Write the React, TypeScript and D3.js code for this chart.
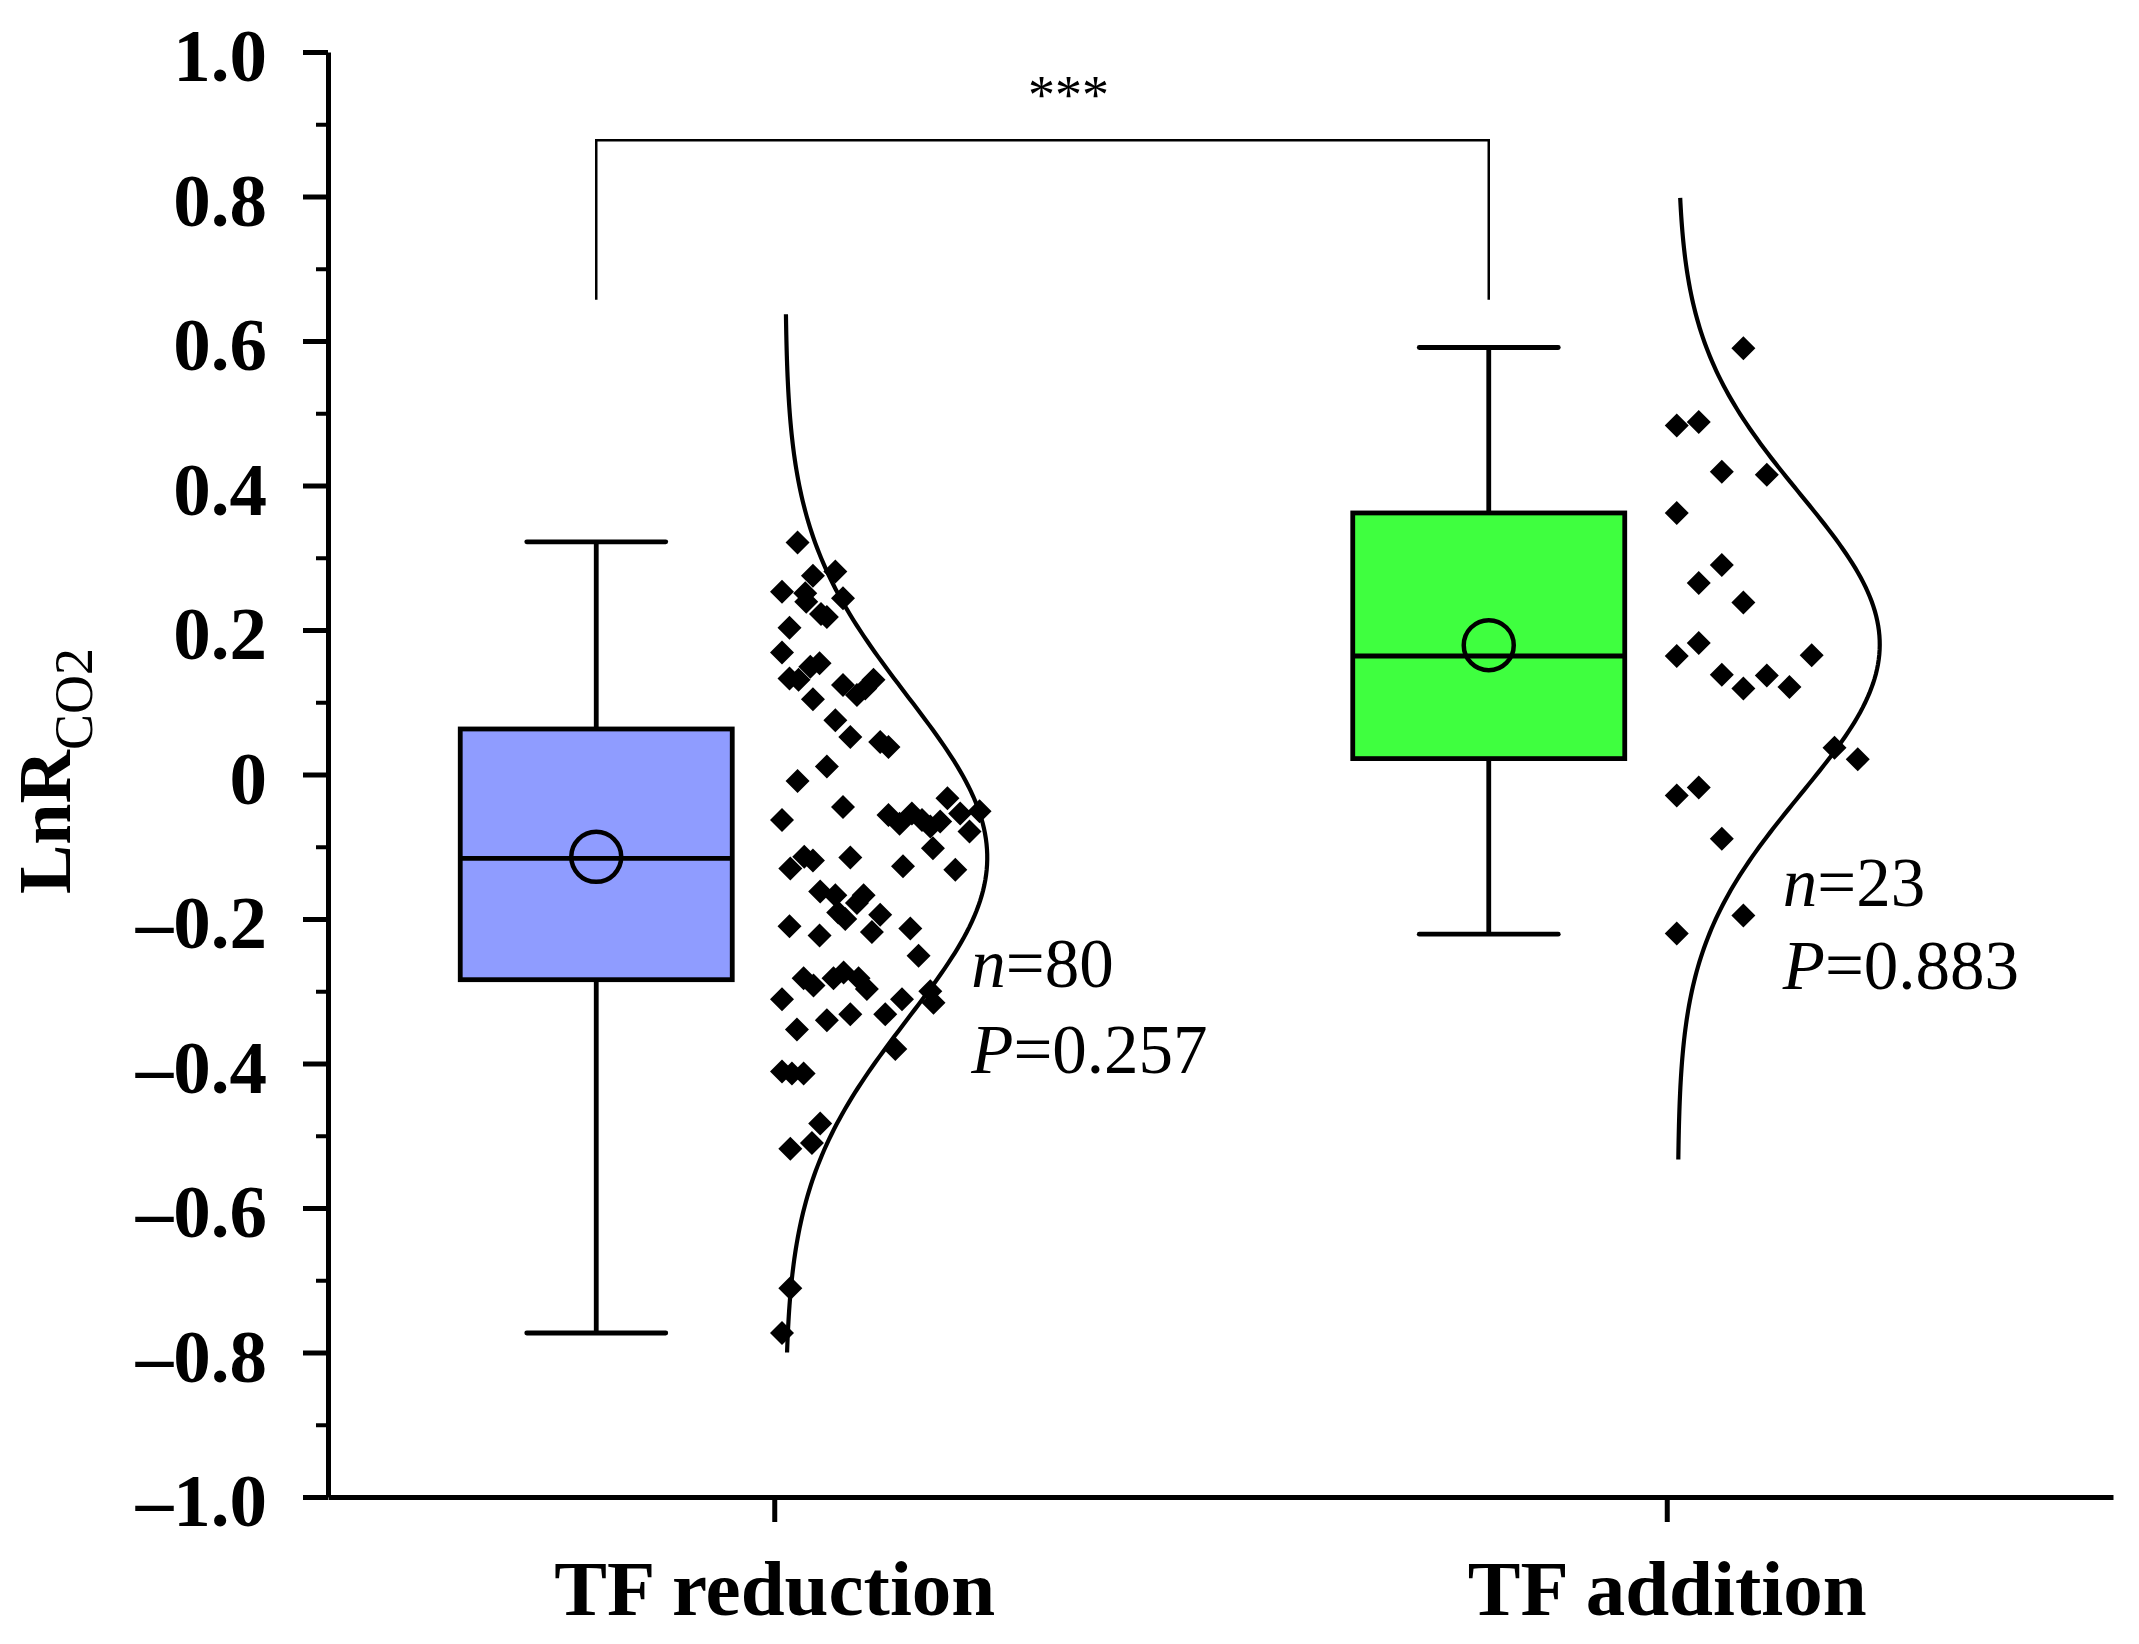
import * as d3 from "d3";
import { useEffect, useRef } from "react";

const categories = ["TF reduction", "TF addition"];
const boxColors = ["#8f9cff", "#3fff3f"];

// box stats: [whisker low, q1, median, q3, whisker high]
const reductionBox = [-0.773, -0.284, -0.116, 0.063, 0.322];
const additionBox = [-0.221, 0.022, 0.164, 0.362, 0.591];
const means = [-0.114, 0.179];

// fitted normal curves: [mean, sd, from, to]
const reductionCurve = [-0.115, 0.223, -0.8, 0.637];
const additionCurve = [0.18, 0.208, -0.533, 0.798];

// raw points (value) and their horizontal jitter (0 = curve baseline, 1 = curve peak)
const reductionValues = [
  0.321, 0.281, 0.275, 0.253, 0.251, 0.244, 0.222, 0.218, 0.203, 0.169,
  0.133, 0.131, 0.149, 0.154, 0.124, 0.11, 0.119, 0.131, 0.104, 0.075,
  0.052, 0.045, 0.038, 0.011, -0.009, -0.045, -0.063, -0.033, -0.056, -0.068,
  -0.054, -0.063, -0.072, -0.065, -0.054, -0.051, -0.079, -0.102, -0.132, -0.127,
  -0.115, -0.13, -0.114, -0.119, -0.162, -0.167, -0.167, -0.178, -0.194, -0.218,
  -0.21, -0.223, -0.213, -0.251, -0.282, -0.292, -0.282, -0.274, -0.282, -0.297,
  -0.311, -0.353, -0.34, -0.332, -0.332, -0.311, -0.3, -0.316, -0.38, -0.411,
  -0.414, -0.414, -0.483, -0.518, -0.51, -0.711, -0.773, -0.191, 0.239, -0.2,
];
const reductionJitter = [
  0.061, 0.248, 0.137, -0.016, 0.099, 0.286, 0.177, 0.206, 0.021, -0.016,
  0.021, 0.066, 0.124, 0.17, 0.286, 0.355, 0.396, 0.437, 0.137, 0.248,
  0.322, 0.47, 0.511, 0.206, 0.061, 0.286, -0.016, 0.803, 0.511, 0.566,
  0.627, 0.677, 0.718, 0.767, 0.866, 0.962, 0.912, 0.731, 0.842, 0.583,
  0.322, 0.025, 0.094, 0.137, 0.173, 0.248, 0.388, 0.355, 0.47, 0.429,
  0.021, 0.17, 0.619, 0.66, 0.091, 0.14, 0.239, 0.289, 0.363, 0.404,
  -0.016, 0.058, 0.206, 0.322, 0.495, 0.578, 0.718, 0.734, 0.545, -0.016,
  0.033, 0.091, 0.173, 0.025, 0.132, 0.025, -0.016, 0.262, 0.104, 0.297,
];
const additionValues = [
  0.59, 0.483, 0.488, 0.419, 0.415, 0.362, 0.29, 0.265, 0.238, 0.182,
  0.164, 0.165, 0.138, 0.137, 0.119, 0.121, 0.037, 0.021, -0.029, -0.018,
  -0.089, -0.195, -0.22,
];
const additionJitter = [
  0.325, -0.005, 0.104, 0.218, 0.441, -0.005, 0.218, 0.104, 0.325, 0.104,
  -0.005, 0.663, 0.218, 0.441, 0.325, 0.553, 0.776, 0.891, -0.005, 0.104,
  0.218, 0.325, -0.005,
];

const nLabels = ["80", "23"];
const pLabels = ["0.257", "0.883"];

const yTicks = [1, 0.8, 0.6, 0.4, 0.2, 0, -0.2, -0.4, -0.6, -0.8, -1];
const yMinorTicks = [0.9, 0.7, 0.5, 0.3, 0.1, -0.1, -0.3, -0.5, -0.7, -0.9];

const W = 2139;
const H = 1644;
const FONT = "'Liberation Serif', 'Times New Roman', serif";

export default function App() {
  const svgRef = useRef<SVGSVGElement | null>(null);

  useEffect(() => {
    if (!svgRef.current) return;
    const svg = d3.select(svgRef.current);
    svg.selectAll("*").remove();

    const y = d3.scaleLinear().domain([-1, 1]).range([1497, 52]);
    const x = d3.scalePoint<string>().domain(categories).range([328, 2113]).padding(0.5);

    const boxes = [reductionBox, additionBox];
    const curves = [reductionCurve, additionCurve];
    const values = [reductionValues, additionValues];
    const jitters = [reductionJitter, additionJitter];

    const boxShift = -178;
    const boxW = 272;
    const capW = 139;
    const curveShift = 11;
    const curveAmp = 202;

    // y axis, major ticks
    const fmt = (d: number) => (d === 0 ? "0" : (d < 0 ? "\u2013" : "") + Math.abs(d).toFixed(1));
    const yAxis = svg
      .append("g")
      .attr("transform", "translate(328,0)")
      .call(
        d3
          .axisLeft(y)
          .tickValues(yTicks)
          .tickSize(25)
          .tickSizeOuter(0)
          .tickPadding(36)
          .tickFormat((d) => fmt(Number(d))),
      );
    yAxis.select(".domain").attr("stroke-width", 5);
    yAxis.selectAll(".tick line").attr("stroke-width", 5);
    yAxis
      .selectAll(".tick text")
      .attr("font-family", FONT)
      .attr("font-size", 75)
      .attr("font-weight", "bold")
      .attr("fill", "#000")
      .attr("dy", "0.38em");

    // y axis, minor ticks
    const yMinor = svg
      .append("g")
      .attr("transform", "translate(328,0)")
      .call(d3.axisLeft(y).tickValues(yMinorTicks).tickSize(12).tickFormat(() => ""));
    yMinor.select(".domain").remove();
    yMinor.selectAll(".tick line").attr("stroke-width", 4);

    // x axis
    const xAxis = svg
      .append("g")
      .attr("transform", "translate(0,1497)")
      .call(d3.axisBottom(x).tickSize(25).tickSizeOuter(0).tickPadding(37));
    xAxis.select(".domain").attr("stroke-width", 5);
    xAxis.selectAll(".tick line").attr("stroke-width", 5);
    xAxis
      .selectAll(".tick text")
      .attr("font-family", FONT)
      .attr("font-size", 79)
      .attr("font-weight", "bold")
      .attr("fill", "#000");

    // y title
    const title = svg
      .append("text")
      .attr("transform", "translate(70,771) rotate(-90)")
      .attr("text-anchor", "middle")
      .attr("font-family", FONT)
      .attr("fill", "#000");
    title.append("tspan").attr("font-size", 74).attr("font-weight", "bold").text("LnR");
    title.append("tspan").attr("font-size", 54).attr("dy", 22).text("CO2");

    categories.forEach((cat, i) => {
      const cx = (x(cat) ?? 0) + boxShift;
      const [lo, q1, med, q3, hi] = boxes[i];
      const g = svg.append("g");

      // whiskers
      g.append("line")
        .attr("x1", cx).attr("x2", cx)
        .attr("y1", y(q3)).attr("y2", y(hi))
        .attr("stroke", "#000").attr("stroke-width", 4.8);
      g.append("line")
        .attr("x1", cx).attr("x2", cx)
        .attr("y1", y(q1)).attr("y2", y(lo))
        .attr("stroke", "#000").attr("stroke-width", 4.8);
      [lo, hi].forEach((v) => {
        g.append("line")
          .attr("x1", cx - capW / 2).attr("x2", cx + capW / 2)
          .attr("y1", y(v)).attr("y2", y(v))
          .attr("stroke", "#000").attr("stroke-width", 4.8)
          .attr("stroke-linecap", "round");
      });

      // box
      g.append("rect")
        .attr("x", cx - boxW / 2)
        .attr("y", y(q3))
        .attr("width", boxW)
        .attr("height", y(q1) - y(q3))
        .attr("fill", boxColors[i])
        .attr("stroke", "#000")
        .attr("stroke-width", 4.8);
      g.append("line")
        .attr("x1", cx - boxW / 2).attr("x2", cx + boxW / 2)
        .attr("y1", y(med)).attr("y2", y(med))
        .attr("stroke", "#000").attr("stroke-width", 4.8);
      g.append("circle")
        .attr("cx", cx).attr("cy", y(means[i]))
        .attr("r", 25)
        .attr("fill", "none")
        .attr("stroke", "#000")
        .attr("stroke-width", 4.5);

      // distribution curve
      const base = (x(cat) ?? 0) + curveShift;
      const [m, s, from, to] = curves[i];
      const dens = d3.scaleLinear().domain([0, 1]).range([base, base + curveAmp]);
      const samples = d3.range(0, 201).map((k) => from + ((to - from) * k) / 200);
      const line = d3
        .line<number>()
        .x((t) => dens(Math.exp(-0.5 * ((t - m) / s) ** 2)))
        .y((t) => y(t));
      g.append("path")
        .datum(samples)
        .attr("d", line)
        .attr("fill", "none")
        .attr("stroke", "#000")
        .attr("stroke-width", 4.2);

      // points
      g.selectAll("path.pt")
        .data(values[i])
        .join("path")
        .attr("class", "pt")
        .attr("d", "M0,-12L12,0L0,12L-12,0Z")
        .attr("transform", (v, k) => `translate(${dens(jitters[i][k])},${y(v)})`)
        .attr("fill", "#000");
    });

    // n / P annotations
    const annX = [197, 116];
    const annY = [
      [-0.294, -0.413],
      [-0.182, -0.297],
    ];
    categories.forEach((cat, i) => {
      const ax = (x(cat) ?? 0) + annX[i];
      const t1 = svg
        .append("text")
        .attr("x", ax).attr("y", y(annY[i][0]))
        .attr("font-family", FONT).attr("font-size", 69).attr("fill", "#000");
      t1.append("tspan").attr("font-style", "italic").text("n");
      t1.append("tspan").text("=" + nLabels[i]);
      const t2 = svg
        .append("text")
        .attr("x", ax).attr("y", y(annY[i][1]))
        .attr("font-family", FONT).attr("font-size", 69).attr("fill", "#000");
      t2.append("tspan").attr("font-style", "italic").text("P");
      t2.append("tspan").text("=" + pLabels[i]);
    });

    // significance bracket
    const bx0 = (x(categories[0]) ?? 0) + boxShift;
    const bx1 = (x(categories[1]) ?? 0) + boxShift;
    svg
      .append("path")
      .attr("d", `M${bx0},${y(0.657)}V${y(0.878)}H${bx1}V${y(0.657)}`)
      .attr("fill", "none")
      .attr("stroke", "#000")
      .attr("stroke-width", 2.5);
    svg
      .append("text")
      .attr("x", (bx0 + bx1) / 2 + 26)
      .attr("y", y(0.915))
      .attr("text-anchor", "middle")
      .attr("font-family", FONT)
      .attr("font-size", 54)
      .attr("fill", "#000")
      .text("***");
  }, []);

  return (
    <svg
      ref={svgRef}
      width={W}
      height={H}
      style={{ position: "absolute", left: 0, top: 0, background: "#fff", display: "block" }}
    />
  );
}
